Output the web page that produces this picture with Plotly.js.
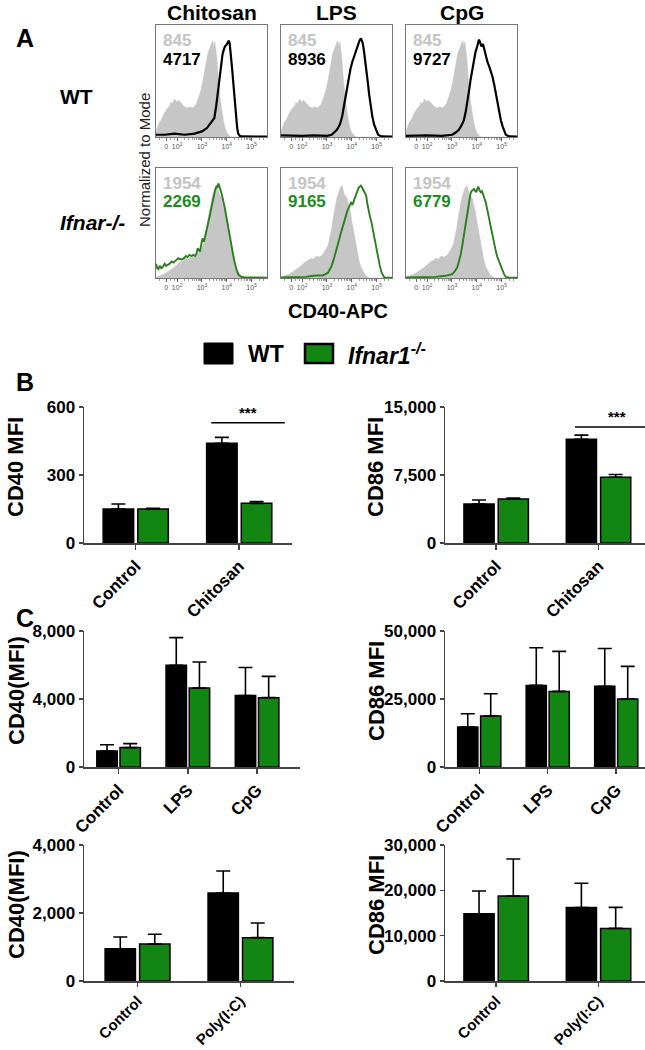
<!DOCTYPE html>
<html><head><meta charset="utf-8">
<script src="https://cdn.plot.ly/plotly-3.0.1.min.js"></script>
<style>html,body{margin:0;padding:0;background:#fff}#chart{width:645px;height:1050px}</style>
</head><body><div id="chart"></div>
<script>
// ================= DATA =================
// Panel A: flow histograms (x = decades of CD40-APC, y = % of mode)
const histColumns = ['Chitosan', 'LPS', 'CpG'];
const histRowLabels = ['WT', 'Ifnar-/-'];
const mfiCtrlWT = '845';
const mfiCtrlKO = '1954';
const mfiWT = ['4717', '8936', '9727'];
const mfiKO = ['2269', '9165', '6779'];
const histTickVals = [1.56, 2, 3, 4, 5];
const histTickText = ['0', '10<sup>2</sup>', '10<sup>3</sup>', '10<sup>4</sup>', '10<sup>5</sup>'];

const ctrlWT_x = [1.15,1.22,1.28,1.35,1.42,1.5,1.62,1.7,1.75,1.82,1.89,1.95,2.0,2.05,2.09,2.15,2.22,2.3,2.42,2.5,2.63,2.7,2.76,2.83,2.9,2.96,3.03,3.08,3.12,3.18,3.23,3.29,3.34,3.39,3.44,3.48,3.52,3.56,3.6,3.64,3.68,3.73,3.78,3.83,3.88,3.93,4.0,4.08,4.17,5.62];
const ctrlWT_y = [5,9,13,15,19,22,26,28,31,30,34,32,31,33,32,30,28,27,26,27,26,28,29,33,37,42,49,55,62,66,74,78,82,84,86,81,85,78,71,58,45,35,27,19,13,8,4,1.5,0,0];

const chitWT_x = [1.15,1.5,1.9,2.3,2.7,3.0,3.2,3.35,3.5,3.57,3.63,3.68,3.73,3.78,3.83,3.88,3.93,3.98,4.04,4.08,4.12,4.17,4.22,4.28,4.33,4.37,4.42,4.46,4.52,4.6,5.0,5.62];
const chitWT_y = [2,2,3,2,3,5,8,12,17,27,38,50,59,67,74,78,81,82,84,86,83,74,60,44,30,17,8,3,1,0.5,0.4,0.3];

const lpsWT_x = [1.15,2.0,2.5,3.0,3.19,3.4,3.52,3.61,3.68,3.75,3.82,3.88,3.95,4.02,4.09,4.16,4.22,4.26,4.31,4.37,4.41,4.44,4.49,4.54,4.6,4.65,4.7,4.76,4.83,4.9,4.98,5.06,5.2,5.62];
const lpsWT_y = [1.5,1,1.5,1,2,6.5,11,18,27,36,45,54,61,67,72,76,80,84,86,88,86,84,77,69,58,48,38,27,18,11,6,2,0.5,0.3];

const cpgWT_x = [1.15,2.0,2.6,3.01,3.15,3.28,3.4,3.48,3.55,3.62,3.68,3.75,3.82,3.89,3.95,4.02,4.09,4.14,4.19,4.25,4.3,4.36,4.43,4.5,4.56,4.63,4.7,4.77,4.83,4.9,4.97,5.04,5.1,5.17,5.3,5.62];
const cpgWT_y = [1,1.5,1,2,4,6.5,11,15,22,30,40,51,60,69,76,81,87,84,81,83,78,72,67,63,59,54,47,39,30,21,15,9.5,5,2,0.5,0.3];

const ctrlKO_x = [1.15,1.32,1.45,1.59,1.73,1.87,2.0,2.15,2.25,2.36,2.45,2.57,2.67,2.77,2.85,2.91,2.98,3.05,3.12,3.19,3.26,3.33,3.4,3.47,3.54,3.61,3.66,3.7,3.76,3.82,3.88,3.95,4.0,4.06,4.11,4.16,4.23,4.3,4.37,4.44,4.51,4.58,4.65,4.72,5.62];
const ctrlKO_y = [0.6,2,3.5,5,7,9.5,12,15,16,18,17,20,19,20,22,24,27,30,37,45,56,66,73,78,82,84,80,76,74,72,66,60,52,45,37,30,22,15,10,6.5,4,2,1,0,0];

const chitKO_x = [1.15,1.2,1.25,1.3,1.36,1.42,1.5,1.56,1.62,1.7,1.78,1.86,1.95,2.05,2.12,2.2,2.28,2.35,2.42,2.5,2.58,2.65,2.72,2.78,2.83,2.87,2.92,2.97,3.02,3.08,3.14,3.2,3.25,3.3,3.36,3.42,3.48,3.53,3.58,3.62,3.66,3.7,3.75,3.8,3.85,3.9,3.95,4.0,4.05,4.1,4.15,4.2,4.25,4.3,4.35,4.4,4.47,4.55,4.7,5.0,5.62];
const chitKO_y = [13,9,8,11,9,10,13,11,12,13,15,14,16,18,17,17,18,20,19,21,20,21,20,22,27,25,24,30,36,33,40,46,50,55,62,70,76,80,83,82,86,84,80,76,72,66,60,53,47,41,35,28,22,16,11,7,3,1.5,0.5,0.3,0.3];

const lpsKO_x = [1.15,1.8,2.15,2.43,2.7,2.84,2.95,3.05,3.12,3.19,3.26,3.33,3.4,3.47,3.54,3.61,3.68,3.75,3.82,3.88,3.93,3.98,4.02,4.06,4.11,4.16,4.21,4.26,4.31,4.37,4.42,4.48,4.53,4.58,4.63,4.68,4.74,4.79,4.86,4.93,5.0,5.06,5.13,5.2,5.26,5.31,5.62];
const lpsKO_y = [0.6,0.6,1,2,2,2.5,3.5,5,8,11,16,21,27,33,39,45,51,57,61,64,67,69,67,68,72,75,79,81,83,84,82,79,77,75,67,60,55,51,42,33,25,18,11,5,2,0.5,0.3];

const cpgKO_x = [1.15,2.0,2.33,2.74,3.01,3.11,3.21,3.28,3.35,3.42,3.48,3.55,3.62,3.67,3.71,3.75,3.79,3.84,3.89,3.94,3.98,4.02,4.06,4.11,4.16,4.21,4.25,4.3,4.36,4.43,4.5,4.56,4.63,4.7,4.77,4.83,4.9,4.97,5.04,5.1,5.17,5.3,5.62];
const cpgKO_y = [0.6,0.6,1,2,3.5,6,9.5,15,21,30,39,50,60,68,75,77,79,80,81,79,78,81,83,80,78,79,77,73,69,61,54,46,39,31,24,19,15,10,6.5,3.5,1,0.3,0.3];

// Panel B / C: bar charts (mean, upper SEM)
const catsB = ['Control', 'Chitosan'];
const cd40B_WT = [150, 440];   const cd40B_WT_err = [22, 26];
const cd40B_KO = [150, 175];   const cd40B_KO_err = [3, 8];
const cd86B_WT = [4300, 11450]; const cd86B_WT_err = [450, 450];
const cd86B_KO = [4850, 7250];  const cd86B_KO_err = [100, 300];

const catsC1 = ['Control', 'LPS', 'CpG'];
const cd40C1_WT = [940, 5980, 4200];    const cd40C1_WT_err = [370, 1630, 1650];
const cd40C1_KO = [1140, 4650, 4080];   const cd40C1_KO_err = [235, 1530, 1250];
const cd86C1_WT = [14700, 30000, 29700]; const cd86C1_WT_err = [4900, 13850, 13850];
const cd86C1_KO = [18750, 27800, 25000]; const cd86C1_KO_err = [8200, 14700, 12000];

const catsC2 = ['Control', 'Poly(I:C)'];
const cd40C2_WT = [950, 2590];    const cd40C2_WT_err = [345, 645];
const cd40C2_KO = [1090, 1275];   const cd40C2_KO_err = [285, 430];
const cd86C2_WT = [14850, 16200]; const cd86C2_WT_err = [5000, 5350];
const cd86C2_KO = [18750, 11600]; const cd86C2_KO_err = [8150, 4650];

// ================= STYLE / LAYOUT =================
const W = 645, H = 1050;
const px = v => v / W;
const py = v => 1 - v / H;
const FONT = 'Liberation Sans, Arial, Helvetica, sans-serif';
const GREY = '#c6c6c6', GREEN_LINE = '#2b7f1e', GREEN_TXT = '#1f8a1f', GREEN_BAR = '#138513';

const histCols = [[156, 267], [281, 392], [406, 517]];
const histRowsPx = [[25, 137], [168, 278]];

const minorVals = [];
[1.3, 1.75, 1.88].forEach(v => minorVals.push(v));
for (let k = 2; k <= 5; k++) for (let m = 2; m <= 9; m++) { const v = k + Math.log10(m); if (v < 5.6) minorVals.push(v); }

const traces = [];
const layout = {
  width: W, height: H, margin: {l: 0, r: 0, t: 0, b: 0},
  paper_bgcolor: '#fff', plot_bgcolor: 'rgba(0,0,0,0)',
  showlegend: false, barmode: 'group', bargap: 0.33, bargroupgap: 0.12,
  font: {family: FONT, color: '#000'},
  annotations: [], shapes: []
};

const greyX = [ctrlWT_x, ctrlKO_x], greyY = [ctrlWT_y, ctrlKO_y];
const lineX = [[chitWT_x, lpsWT_x, cpgWT_x], [chitKO_x, lpsKO_x, cpgKO_x]];
const lineY = [[chitWT_y, lpsWT_y, cpgWT_y], [chitKO_y, lpsKO_y, cpgKO_y]];
const ctrlMfi = [mfiCtrlWT, mfiCtrlKO];
const sampleMfi = [mfiWT, mfiKO];

let ai = 1;
for (let r = 0; r < 2; r++) {
  for (let c = 0; c < 3; c++) {
    const xa = 'x' + ai, ya = 'y' + ai;
    const xk = 'xaxis' + (ai === 1 ? '' : ai), yk = 'yaxis' + (ai === 1 ? '' : ai);
    traces.push({x: greyX[r], y: greyY[r], xaxis: xa, yaxis: ya, type: 'scatter', mode: 'lines',
      fill: 'tozeroy', fillcolor: GREY, line: {color: GREY, width: 0.5}, hoverinfo: 'skip'});
    traces.push({x: lineX[r][c], y: lineY[r][c], xaxis: xa, yaxis: ya, type: 'scatter', mode: 'lines',
      line: {color: r === 0 ? '#000' : GREEN_LINE, width: r === 0 ? 2.2 : 1.9}, hoverinfo: 'skip'});
    layout[xk] = {domain: [px(histCols[c][0]), px(histCols[c][1])], anchor: ya, range: [1.15, 5.62],
      showline: true, mirror: true, linecolor: '#777', linewidth: 1, showgrid: false, zeroline: false,
      tickmode: 'array', tickvals: histTickVals, ticktext: histTickText, ticks: 'outside', ticklen: 3,
      tickcolor: '#666', tickwidth: 1, tickfont: {size: 7, color: '#555', family: FONT},
      minor: {tickmode: 'array', tickvals: minorVals, ticks: 'outside', ticklen: 2, tickcolor: '#888', tickwidth: 0.8}};
    layout[yk] = {domain: [py(histRowsPx[r][1]), py(histRowsPx[r][0])], anchor: xa, range: [0, 100],
      showline: true, mirror: true, linecolor: '#777', linewidth: 1, showgrid: false, zeroline: false,
      showticklabels: false, ticks: ''};
    const left = px(histCols[c][0] + 5);
    layout.annotations.push({xref: 'paper', yref: 'paper', x: left, y: py(histRowsPx[r][0] + 16),
      xanchor: 'left', yanchor: 'middle', text: ctrlMfi[r], showarrow: false,
      font: {size: 17, color: '#c4c4c4', family: FONT, weight: 'bold'}});
    layout.annotations.push({xref: 'paper', yref: 'paper', x: left, y: py(histRowsPx[r][0] + 34),
      xanchor: 'left', yanchor: 'middle', text: sampleMfi[r][c], showarrow: false,
      font: {size: 17, color: r === 0 ? '#000' : GREEN_TXT, family: FONT, weight: 'bold'}});
    ai++;
  }
}

// column headers and row labels for A
const colCenters = [212, 336, 462];
histColumns.forEach((t, i) => layout.annotations.push({xref: 'paper', yref: 'paper', x: px(colCenters[i]), y: py(12),
  xanchor: 'center', yanchor: 'middle', text: t, showarrow: false, font: {size: 21, family: FONT, weight: 'bold'}}));
layout.annotations.push({xref: 'paper', yref: 'paper', x: px(76), y: py(97), xanchor: 'center', yanchor: 'middle',
  text: histRowLabels[0], showarrow: false, font: {size: 21, family: FONT, weight: 'bold'}});
layout.annotations.push({xref: 'paper', yref: 'paper', x: px(92), y: py(223), xanchor: 'center', yanchor: 'middle',
  text: '<i>' + histRowLabels[1] + '</i>', showarrow: false, font: {size: 21, family: FONT, weight: 'bold'}});
layout.annotations.push({xref: 'paper', yref: 'paper', x: px(144), y: py(160), xanchor: 'center', yanchor: 'middle',
  text: 'Normalized to Mode', textangle: -90, showarrow: false, font: {size: 15, family: FONT, color: '#222'}});
layout.annotations.push({xref: 'paper', yref: 'paper', x: px(338), y: py(311), xanchor: 'center', yanchor: 'middle',
  text: 'CD40-APC', showarrow: false, font: {size: 20, family: FONT, weight: 'bold'}});
[['A', 38], ['B', 382], ['C', 618]].forEach(([t, y]) => layout.annotations.push({xref: 'paper', yref: 'paper',
  x: px(14), y: py(y), xanchor: 'left', yanchor: 'middle', text: t, showarrow: false,
  font: {size: 25, family: FONT, weight: 'bold'}}));

// legend (drawn)
layout.shapes.push({type: 'rect', xref: 'paper', yref: 'paper', x0: px(204), x1: px(233), y0: py(364), y1: py(343),
  fillcolor: '#000', line: {color: '#000', width: 1}});
layout.shapes.push({type: 'rect', xref: 'paper', yref: 'paper', x0: px(305), x1: px(333), y0: py(363), y1: py(344),
  fillcolor: GREEN_BAR, line: {color: '#000', width: 2.5}});
layout.annotations.push({xref: 'paper', yref: 'paper', x: px(246), y: py(354), xanchor: 'left', yanchor: 'middle',
  text: 'WT', showarrow: false, font: {size: 23, family: FONT, weight: 'bold'}});
layout.annotations.push({xref: 'paper', yref: 'paper', x: px(346), y: py(354), xanchor: 'left', yanchor: 'middle',
  text: '<i>Ifnar1</i><sup><i>-/-</i></sup>', showarrow: false, font: {size: 23, family: FONT, weight: 'bold'}});

// bar panels
const barPanels = [
  {cats: catsB, wt: cd40B_WT, wte: cd40B_WT_err, ko: cd40B_KO, koe: cd40B_KO_err, xpx: [84, 292], ypx: [407, 543], xr: [-0.5, 1.51], yr: [0, 600], tv: [0, 300, 600], title: 'CD40 MFI', tx: 16, cf: 17},
  {cats: catsB, wt: cd86B_WT, wte: cd86B_WT_err, ko: cd86B_KO, koe: cd86B_KO_err, xpx: [445, 645], ypx: [407, 543], xr: [-0.5, 1.454], yr: [0, 15000], tv: [0, 7500, 15000], title: 'CD86 MFI', tx: 376, cf: 17},
  {cats: catsC1, wt: cd40C1_WT, wte: cd40C1_WT_err, ko: cd40C1_KO, koe: cd40C1_KO_err, xpx: [84, 300], ypx: [631, 767], xr: [-0.5, 2.62], yr: [0, 8000], tv: [0, 4000, 8000], title: 'CD40(MFI)', tx: 16, cf: 17},
  {cats: catsC1, wt: cd86C1_WT, wte: cd86C1_WT_err, ko: cd86C1_KO, koe: cd86C1_KO_err, xpx: [445, 645], ypx: [631, 767], xr: [-0.5, 2.42], yr: [0, 50000], tv: [0, 25000, 50000], title: 'CD86 MFI', tx: 376, cf: 17},
  {cats: catsC2, wt: cd40C2_WT, wte: cd40C2_WT_err, ko: cd40C2_KO, koe: cd40C2_KO_err, xpx: [84, 294], ypx: [845, 981], xr: [-0.52, 1.52], yr: [0, 4000], tv: [0, 2000, 4000], title: 'CD40(MFI)', tx: 16, cf: 15},
  {cats: catsC2, wt: cd86C2_WT, wte: cd86C2_WT_err, ko: cd86C2_KO, koe: cd86C2_KO_err, xpx: [445, 645], ypx: [845, 981], xr: [-0.5, 1.454], yr: [0, 30000], tv: [0, 10000, 20000, 30000], title: 'CD86 MFI', tx: 376, cf: 15}
];

barPanels.forEach((p, i) => {
  const n = 7 + i;
  const xa = 'x' + n, ya = 'y' + n;
  const zeros = p.wt.map(() => 0);
  [[p.wt, p.wte, '#000', 'WT'], [p.ko, p.koe, GREEN_BAR, 'Ifnar1-/-']].forEach(([vals, err, col, nm]) => {
    traces.push({type: 'bar', name: nm, x: p.cats, y: vals, xaxis: xa, yaxis: ya,
      marker: {color: col, line: {color: '#000', width: 1.5}},
      error_y: {type: 'data', symmetric: false, array: err, arrayminus: zeros, color: '#000', thickness: 1.6, width: 7},
      hoverinfo: 'skip'});
  });
  layout['xaxis' + n] = {domain: [px(p.xpx[0]), px(p.xpx[1])], anchor: ya, range: p.xr, type: 'category',
    showline: true, linecolor: '#444', linewidth: 1.5, showgrid: false, zeroline: false,
    ticks: 'outside', ticklen: p.cf < 17 ? 4 : 5, tickwidth: 1.5, tickcolor: '#444', tickangle: -45,
    tickfont: {size: p.cf, family: FONT, weight: 'bold', color: '#000'}};
  layout['yaxis' + n] = {domain: [py(p.ypx[1]), py(p.ypx[0])], anchor: xa, range: p.yr,
    showline: true, linecolor: '#444', linewidth: 1.5, showgrid: false, zeroline: false,
    tickmode: 'array', tickvals: p.tv, tickformat: ',', ticks: 'outside', ticklen: 4, tickwidth: 1.5, tickcolor: '#444',
    tickfont: {size: 17, family: FONT, weight: 'bold', color: '#000'}};
  layout.annotations.push({xref: 'paper', yref: 'paper', x: px(p.tx), y: py((p.ypx[0] + p.ypx[1]) / 2 - 8),
    xanchor: 'center', yanchor: 'middle', text: p.title, textangle: -90, showarrow: false,
    font: {size: 22, family: FONT, weight: 'bold'}});
});

// significance markers in panel B
layout.shapes.push({type: 'line', xref: 'x7', yref: 'y7', x0: 0.73, x1: 1.44, y0: 530, y1: 530, line: {color: '#000', width: 1.5}});
layout.annotations.push({xref: 'x7', yref: 'y7', x: 1.08, y: 575, text: '***', showarrow: false, yanchor: 'middle',
  font: {size: 15, family: FONT, weight: 'bold'}});
layout.shapes.push({type: 'line', xref: 'x8', yref: 'y8', x0: 0.77, x1: 1.454, y0: 12800, y1: 12800, line: {color: '#000', width: 1.5}});
layout.annotations.push({xref: 'x8', yref: 'y8', x: 1.18, y: 14000, text: '***', showarrow: false, yanchor: 'middle',
  font: {size: 15, family: FONT, weight: 'bold'}});

Plotly.newPlot('chart', traces, layout, {staticPlot: true, displayModeBar: false});
</script>
</body></html>
